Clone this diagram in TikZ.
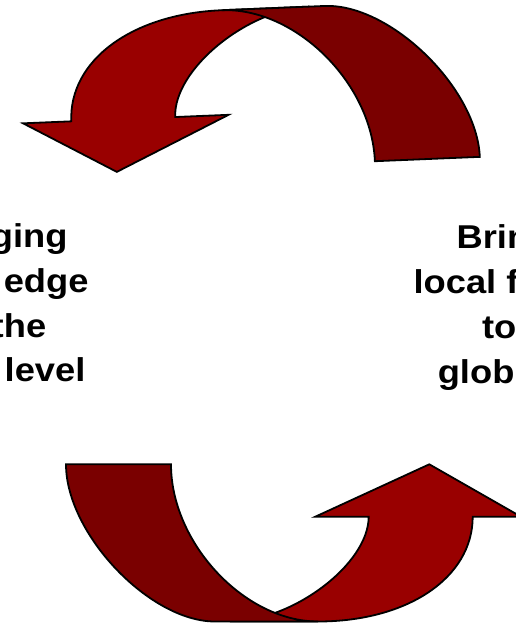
\documentclass[tikz,border=0pt]{standalone}
\usepackage{fontspec}
\setmainfont{Liberation Sans}
\definecolor{frontred}{RGB}{153,0,0}
\definecolor{backred}{RGB}{122,0,0}
\tikzset{
  frontface/.style={fill=frontred, draw=black, line width=1.8pt},
  backface/.style={fill=backred, draw=black, line width=1.8pt},
  lbl/.style={font=\fontsize{33}{40}\selectfont\bfseries, inner sep=0pt, outer sep=0pt},
}
\newcommand{\widetext}[1]{\scalebox{1.1}[1]{#1}}
\newcommand{\ribbonarrow}{%
  \path[frontface] (318,621.5) .. controls (407.7,621.5) and (472.7,577.6) .. (472.7,516.7)
     -- (521,516.7) -- (429.3,464.3) -- (315.3,516.7) -- (368.7,516.7)
     .. controls (368.7,564.1) and (292.4,621.5) .. (230,621.5) -- cycle;
  \path[backface] (66,464.3) .. controls (66,533.3) and (149.4,621.5) .. (215,621.5)
     -- (318,621.5) .. controls (244.5,621.5) and (171,543) .. (171,464.3) -- cycle;
}
\begin{document}
\begin{tikzpicture}[x=1pt,y=-1pt]
\useasboundingbox (0,0) rectangle (516,625);
\clip (0,0) rectangle (516,625);
% bottom arrow
\begin{scope}
  \ribbonarrow
\end{scope}
% top arrow (same ribbon turned round)
\begin{scope}[shift={(281.2,315.5)}, rotate=182.37, shift={(-271,-314)}]
  \ribbonarrow
\end{scope}
% left text (cut by the frame)
\node[lbl, anchor=base east] (l1) at (67.5,247.5) {\widetext{ging}};
\node[lbl, anchor=base east] (l2) at (88.5,292) {\widetext{edge}};
\node[lbl, anchor=base east] (l3) at (46.2,337) {\widetext{the}};
\node[lbl, anchor=base east] (l4) at (85.4,381.5) {\widetext{level}};
% right text (cut by the frame)
\node[lbl, anchor=base west] (r1) at (456.6,248) {\widetext{Brin}};
\node[lbl, anchor=base west] (r2) at (413.6,293) {\widetext{local f}};
\node[lbl, anchor=base west] (r3) at (482,338) {\widetext{to}};
\node[lbl, anchor=base west] (r4) at (437.8,383) {\widetext{glob}};
\end{tikzpicture}
\end{document}
